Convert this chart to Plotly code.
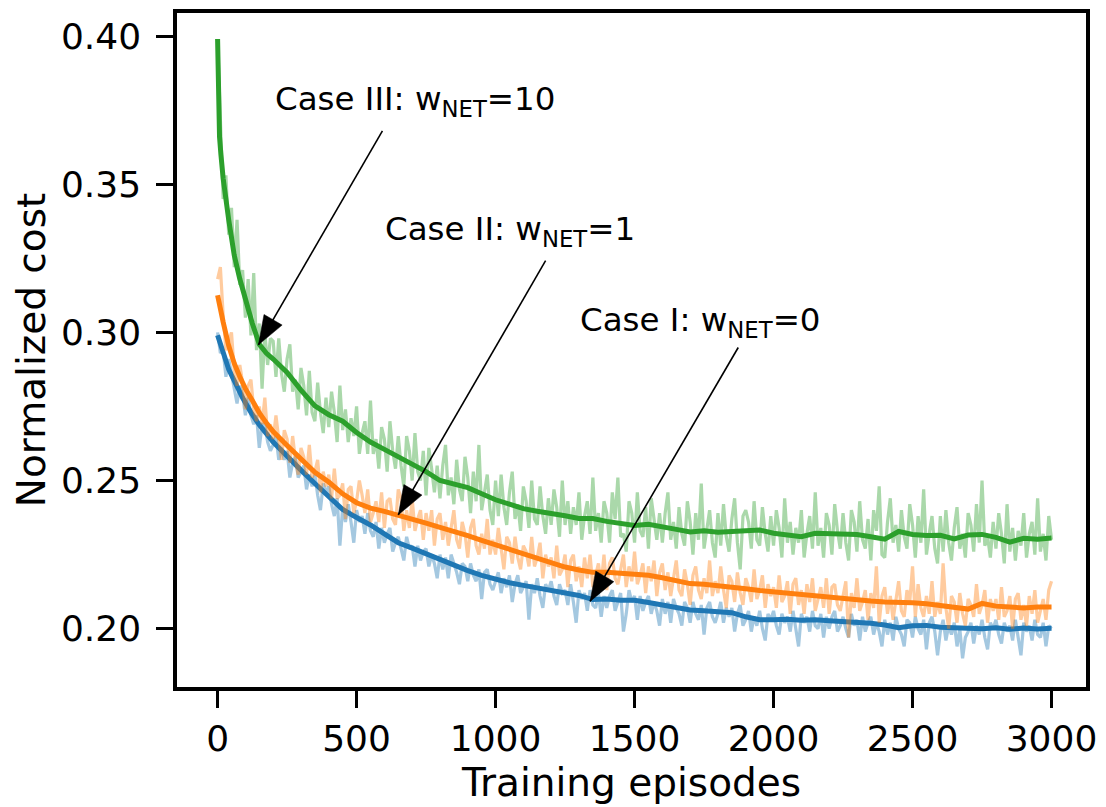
import math
import plotly.graph_objects as go

# ---------------- data ----------------
raw_episodes = list(range(0, 3001, 10))

blue_raw = [
    0.300, 0.293, 0.294, 0.285, 0.291, 0.286, 0.282, 0.276, 0.282, 0.279, 0.272, 0.278, 0.272, 0.269, 0.272, 0.261, 0.269, 0.269, 0.263, 0.260,
    0.262, 0.265, 0.257, 0.261, 0.257, 0.260, 0.251, 0.256, 0.258, 0.251, 0.253, 0.255, 0.247, 0.252, 0.248, 0.252, 0.245, 0.240, 0.249, 0.246,
    0.248, 0.242, 0.238, 0.244, 0.228, 0.241, 0.236, 0.242, 0.236, 0.229, 0.240, 0.236, 0.238, 0.232, 0.239, 0.233, 0.231, 0.236, 0.227, 0.234,
    0.229, 0.232, 0.234, 0.226, 0.229, 0.231, 0.227, 0.223, 0.231, 0.227, 0.228, 0.221, 0.228, 0.223, 0.226, 0.227, 0.221, 0.225, 0.222, 0.217,
    0.225, 0.220, 0.224, 0.217, 0.225, 0.222, 0.219, 0.215, 0.222, 0.221, 0.216, 0.222, 0.218, 0.216, 0.220, 0.210, 0.219, 0.220, 0.215, 0.213,
    0.216, 0.219, 0.212, 0.217, 0.214, 0.218, 0.209, 0.215, 0.218, 0.212, 0.214, 0.216, 0.203, 0.215, 0.212, 0.217, 0.211, 0.207, 0.215, 0.213,
    0.216, 0.211, 0.208, 0.215, 0.212, 0.213, 0.208, 0.215, 0.209, 0.202, 0.213, 0.210, 0.212, 0.206, 0.213, 0.208, 0.207, 0.212, 0.204, 0.211,
    0.207, 0.211, 0.213, 0.206, 0.209, 0.212, 0.199, 0.205, 0.213, 0.209, 0.211, 0.203, 0.211, 0.206, 0.209, 0.211, 0.205, 0.209, 0.206, 0.201,
    0.210, 0.205, 0.209, 0.202, 0.210, 0.207, 0.205, 0.201, 0.209, 0.207, 0.202, 0.209, 0.205, 0.203, 0.208, 0.198, 0.207, 0.209, 0.204, 0.202,
    0.205, 0.209, 0.202, 0.207, 0.204, 0.207, 0.199, 0.205, 0.208, 0.201, 0.203, 0.206, 0.199, 0.204, 0.201, 0.206, 0.200, 0.196, 0.205, 0.203,
    0.206, 0.201, 0.198, 0.205, 0.202, 0.204, 0.199, 0.206, 0.200, 0.194, 0.205, 0.202, 0.204, 0.199, 0.206, 0.201, 0.200, 0.205, 0.197, 0.204,
    0.200, 0.204, 0.206, 0.199, 0.201, 0.204, 0.200, 0.197, 0.205, 0.201, 0.203, 0.196, 0.204, 0.199, 0.202, 0.204, 0.198, 0.202, 0.199, 0.194,
    0.203, 0.198, 0.202, 0.196, 0.204, 0.200, 0.198, 0.194, 0.203, 0.202, 0.197, 0.204, 0.200, 0.198, 0.203, 0.193, 0.202, 0.204, 0.199, 0.191,
    0.199, 0.203, 0.196, 0.201, 0.198, 0.202, 0.194, 0.200, 0.190, 0.197, 0.199, 0.202, 0.195, 0.201, 0.198, 0.203, 0.197, 0.193, 0.202, 0.200,
    0.203, 0.198, 0.195, 0.202, 0.199, 0.201, 0.196, 0.203, 0.197, 0.191, 0.202, 0.199, 0.201, 0.196, 0.203, 0.198, 0.197, 0.202, 0.194, 0.201,
    0.200,
]

orange_raw = [
    0.318, 0.322, 0.306, 0.294, 0.297, 0.300, 0.287, 0.282, 0.289, 0.283, 0.274, 0.282, 0.284, 0.274, 0.270, 0.275, 0.269, 0.278, 0.265, 0.269,
    0.264, 0.272, 0.264, 0.257, 0.267, 0.264, 0.256, 0.265, 0.257, 0.252, 0.261, 0.258, 0.252, 0.262, 0.251, 0.253, 0.257, 0.246, 0.253, 0.248,
    0.252, 0.244, 0.254, 0.244, 0.245, 0.249, 0.237, 0.247, 0.248, 0.239, 0.243, 0.250, 0.245, 0.239, 0.247, 0.236, 0.239, 0.243, 0.236, 0.246,
    0.234, 0.243, 0.244, 0.237, 0.235, 0.247, 0.244, 0.233, 0.240, 0.234, 0.244, 0.233, 0.237, 0.240, 0.230, 0.239, 0.233, 0.240, 0.228, 0.237,
    0.239, 0.230, 0.236, 0.228, 0.234, 0.240, 0.230, 0.227, 0.236, 0.232, 0.224, 0.234, 0.237, 0.228, 0.225, 0.232, 0.227, 0.237, 0.225, 0.230,
    0.225, 0.234, 0.227, 0.220, 0.231, 0.229, 0.222, 0.231, 0.224, 0.220, 0.228, 0.226, 0.221, 0.231, 0.221, 0.224, 0.229, 0.217, 0.225, 0.221,
    0.224, 0.217, 0.228, 0.218, 0.220, 0.225, 0.214, 0.223, 0.225, 0.216, 0.221, 0.214, 0.224, 0.217, 0.225, 0.214, 0.218, 0.222, 0.215, 0.225,
    0.213, 0.222, 0.224, 0.217, 0.215, 0.220, 0.225, 0.214, 0.221, 0.216, 0.226, 0.215, 0.218, 0.222, 0.212, 0.221, 0.216, 0.223, 0.211, 0.219,
    0.222, 0.213, 0.219, 0.211, 0.217, 0.223, 0.213, 0.211, 0.220, 0.215, 0.208, 0.218, 0.221, 0.213, 0.210, 0.217, 0.212, 0.223, 0.211, 0.216,
    0.212, 0.221, 0.213, 0.207, 0.218, 0.216, 0.209, 0.219, 0.212, 0.208, 0.217, 0.214, 0.209, 0.220, 0.210, 0.213, 0.218, 0.207, 0.215, 0.211,
    0.214, 0.207, 0.218, 0.209, 0.211, 0.216, 0.205, 0.215, 0.217, 0.208, 0.213, 0.205, 0.215, 0.209, 0.217, 0.206, 0.210, 0.214, 0.207, 0.217,
    0.205, 0.214, 0.215, 0.208, 0.206, 0.211, 0.216, 0.197, 0.212, 0.207, 0.217, 0.206, 0.209, 0.213, 0.203, 0.212, 0.207, 0.221, 0.202, 0.211,
    0.214, 0.205, 0.211, 0.203, 0.210, 0.216, 0.206, 0.204, 0.213, 0.209, 0.221, 0.204, 0.215, 0.207, 0.204, 0.211, 0.205, 0.216, 0.204, 0.209,
    0.205, 0.222, 0.207, 0.200, 0.211, 0.209, 0.202, 0.212, 0.205, 0.201, 0.210, 0.208, 0.204, 0.215, 0.205, 0.208, 0.213, 0.202, 0.210, 0.206,
    0.210, 0.203, 0.214, 0.204, 0.206, 0.211, 0.200, 0.210, 0.212, 0.203, 0.208, 0.201, 0.211, 0.205, 0.213, 0.202, 0.206, 0.210, 0.203, 0.213,
    0.216,
]

green_raw = [
    0.399, 0.372, 0.345, 0.353, 0.333, 0.342, 0.322, 0.338, 0.316, 0.321, 0.305, 0.318, 0.299, 0.320, 0.294, 0.303, 0.281, 0.300, 0.289, 0.298,
    0.297, 0.285, 0.298, 0.286, 0.280, 0.291, 0.296, 0.280, 0.284, 0.274, 0.288, 0.282, 0.272, 0.287, 0.273, 0.270, 0.283, 0.273, 0.266, 0.278,
    0.268, 0.280, 0.273, 0.263, 0.282, 0.267, 0.274, 0.263, 0.271, 0.265, 0.275, 0.259, 0.266, 0.270, 0.259, 0.277, 0.259, 0.264, 0.254, 0.268,
    0.264, 0.253, 0.270, 0.260, 0.254, 0.265, 0.255, 0.248, 0.265, 0.260, 0.250, 0.266, 0.253, 0.250, 0.260, 0.245, 0.261, 0.254, 0.246, 0.255,
    0.244, 0.255, 0.262, 0.245, 0.251, 0.242, 0.257, 0.247, 0.243, 0.258, 0.251, 0.239, 0.253, 0.243, 0.262, 0.240, 0.246, 0.252, 0.240, 0.235,
    0.250, 0.238, 0.252, 0.241, 0.235, 0.246, 0.253, 0.237, 0.242, 0.233, 0.248, 0.243, 0.234, 0.250, 0.237, 0.235, 0.248, 0.238, 0.232, 0.244,
    0.235, 0.247, 0.241, 0.231, 0.250, 0.235, 0.243, 0.232, 0.241, 0.235, 0.246, 0.230, 0.238, 0.243, 0.232, 0.251, 0.233, 0.239, 0.229, 0.243,
    0.239, 0.229, 0.246, 0.237, 0.251, 0.231, 0.232, 0.226, 0.243, 0.239, 0.229, 0.246, 0.233, 0.231, 0.241, 0.227, 0.244, 0.237, 0.230, 0.239,
    0.229, 0.239, 0.246, 0.230, 0.236, 0.227, 0.241, 0.232, 0.228, 0.243, 0.236, 0.225, 0.239, 0.230, 0.249, 0.227, 0.234, 0.240, 0.229, 0.224,
    0.239, 0.228, 0.242, 0.231, 0.226, 0.237, 0.244, 0.229, 0.220, 0.238, 0.240, 0.236, 0.227, 0.243, 0.230, 0.228, 0.241, 0.232, 0.226, 0.238,
    0.228, 0.240, 0.234, 0.224, 0.244, 0.229, 0.236, 0.225, 0.234, 0.229, 0.240, 0.224, 0.232, 0.238, 0.227, 0.246, 0.228, 0.234, 0.224, 0.239,
    0.235, 0.225, 0.242, 0.233, 0.227, 0.239, 0.229, 0.223, 0.240, 0.236, 0.226, 0.243, 0.230, 0.227, 0.237, 0.223, 0.240, 0.233, 0.248, 0.225,
    0.224, 0.236, 0.244, 0.229, 0.235, 0.226, 0.240, 0.231, 0.227, 0.242, 0.235, 0.224, 0.238, 0.229, 0.247, 0.225, 0.232, 0.238, 0.227, 0.222,
    0.238, 0.226, 0.240, 0.229, 0.223, 0.234, 0.241, 0.227, 0.232, 0.224, 0.239, 0.235, 0.226, 0.242, 0.229, 0.250, 0.228, 0.231, 0.224, 0.236,
    0.227, 0.239, 0.232, 0.222, 0.242, 0.226, 0.234, 0.223, 0.233, 0.228, 0.239, 0.224, 0.232, 0.236, 0.225, 0.244, 0.226, 0.232, 0.223, 0.238,
    0.230,
]

blue_smooth_ep = [0, 10, 20, 40, 60, 90, 120, 150] + list(range(200, 3001, 50))
blue_smooth = [
    0.2990, 0.2955, 0.2933, 0.2875, 0.2835, 0.2779, 0.2730, 0.2688,
    0.2630, 0.2580, 0.2535, 0.2490, 0.2447, 0.2402, 0.2375, 0.2350, 0.2320, 0.2290,
    0.2272, 0.2252, 0.2232, 0.2215, 0.2196, 0.2180, 0.2166, 0.2155, 0.2146, 0.2138,
    0.2131, 0.2124, 0.2112, 0.2098, 0.2100, 0.2096, 0.2096, 0.2088, 0.2079, 0.2070,
    0.2063, 0.2060, 0.2058, 0.2054, 0.2040, 0.2030, 0.2030, 0.2032, 0.2028, 0.2030,
    0.2027, 0.2025, 0.2023, 0.2018, 0.2012, 0.2003, 0.2010, 0.2011, 0.2005, 0.2002,
    0.2003, 0.2000, 0.2003, 0.1998, 0.2002, 0.1999, 0.2001,
]

orange_smooth_ep = [0, 10, 20, 40, 60, 80, 100, 125, 150, 175] + list(range(200, 3001, 50))
orange_smooth = [
    0.3125, 0.3070, 0.3035, 0.2955, 0.2895, 0.2850, 0.2810, 0.2770, 0.2728, 0.2695,
    0.2665, 0.2618, 0.2575, 0.2528, 0.2495, 0.2455, 0.2425, 0.2407, 0.2396, 0.2384,
    0.2372, 0.2356, 0.2342, 0.2330, 0.2314, 0.2298, 0.2283, 0.2268, 0.2252, 0.2238,
    0.2222, 0.2208, 0.2198, 0.2190, 0.2190, 0.2187, 0.2186, 0.2180, 0.2172, 0.2162,
    0.2152, 0.2150, 0.2146, 0.2142, 0.2135, 0.2129, 0.2124, 0.2120, 0.2115, 0.2110,
    0.2106, 0.2100, 0.2096, 0.2093, 0.2090, 0.2090, 0.2087, 0.2084, 0.2078, 0.2072,
    0.2066, 0.2085, 0.2076, 0.2073, 0.2070, 0.2073, 0.2073,
]

green_smooth_ep = [0, 3, 7, 12, 20, 40, 60, 80, 100, 125, 150, 175] + list(range(200, 3001, 50))
green_smooth = [
    0.399, 0.380, 0.366, 0.360, 0.352, 0.338, 0.326, 0.318, 0.311, 0.303, 0.296, 0.293,
    0.2910, 0.2865, 0.2805, 0.2752, 0.2722, 0.2700, 0.2662, 0.2630, 0.2605, 0.2580,
    0.2557, 0.2530, 0.2500, 0.2490, 0.2476, 0.2455, 0.2435, 0.2420, 0.2405, 0.2396,
    0.2390, 0.2381, 0.2372, 0.2372, 0.2362, 0.2355, 0.2348, 0.2352, 0.2345, 0.2335,
    0.2326, 0.2330, 0.2325, 0.2327, 0.2333, 0.2333, 0.2322, 0.2316, 0.2310, 0.2322,
    0.2320, 0.2320, 0.2318, 0.2310, 0.2302, 0.2328, 0.2318, 0.2314, 0.2315, 0.2303,
    0.2316, 0.2318, 0.2308, 0.2292, 0.2305, 0.2302, 0.2306,
]

# annotations: label, text anchor (left, bottom), arrow tail, arrow tip
ann_labels = ["Case III: w<sub>NET</sub>=10", "Case II: w<sub>NET</sub>=1", "Case I: w<sub>NET</sub>=0"]
ann_text_xy = [(200, 0.3703), (595, 0.3264), (1296, 0.2958)]
ann_tail_xy = [(593, 0.3680), (1180, 0.3242), (1873, 0.2949)]
ann_tip_xy = [(147, 0.2958), (650, 0.2384), (1340, 0.2092)]

x_ticks = [0, 500, 1000, 1500, 2000, 2500, 3000]
y_ticks = [0.20, 0.25, 0.30, 0.35, 0.40]

# ---------------- style ----------------
BLUE, ORANGE, GREEN = "#1f77b4", "#ff7f0e", "#2ca02c"
FONT = "DejaVu Sans"
W, H = 1106, 807
M = dict(l=177, r=9, t=10, b=120)
XR = [-146, 3124]
YR = [0.1803, 0.4078]

fig = go.Figure()
for raw, sep, sm, col in [
    (blue_raw, blue_smooth_ep, blue_smooth, BLUE),
    (orange_raw, orange_smooth_ep, orange_smooth, ORANGE),
    (green_raw, green_smooth_ep, green_smooth, GREEN),
]:
    fig.add_trace(go.Scatter(x=raw_episodes, y=raw, mode="lines",
                             line=dict(color=col, width=3.2), opacity=0.4,
                             showlegend=False, hoverinfo="skip"))
    fig.add_trace(go.Scatter(x=sep, y=sm, mode="lines",
                             line=dict(color=col, width=5),
                             showlegend=False))

# pixel scale for arrow heads
pw = W - M["l"] - M["r"]
ph = H - M["t"] - M["b"]
sx = pw / (XR[1] - XR[0])
sy = ph / (YR[1] - YR[0])
HEAD_L, HEAD_HW = 29, 10.5

shapes = []
annotations = []
for lab, txy, tail, tip in zip(ann_labels, ann_text_xy, ann_tail_xy, ann_tip_xy):
    annotations.append(dict(x=txy[0], y=txy[1], xref="x", yref="y", text=lab,
                            showarrow=False, xanchor="left", yanchor="bottom",
                            font=dict(family=FONT, size=32.5, color="black")))
    shapes.append(dict(type="line", xref="x", yref="y", x0=tail[0], y0=tail[1],
                       x1=tip[0], y1=tip[1], line=dict(color="black", width=1.6)))
    dx = (tip[0] - tail[0]) * sx
    dy = -(tip[1] - tail[1]) * sy
    n = math.hypot(dx, dy)
    ux, uy = dx / n, dy / n
    px, py = -uy, ux
    bx, by = -HEAD_L * ux, -HEAD_L * uy
    c1 = (bx + HEAD_HW * px, by + HEAD_HW * py)
    c2 = (bx - HEAD_HW * px, by - HEAD_HW * py)
    path = "M0,0 L{:.2f},{:.2f} L{:.2f},{:.2f} Z".format(c1[0], -c1[1], c2[0], -c2[1])
    shapes.append(dict(type="path", xref="x", yref="y", xsizemode="pixel", ysizemode="pixel",
                       xanchor=tip[0], yanchor=tip[1], path=path,
                       fillcolor="black", line=dict(color="black", width=0.5)))

axis_common = dict(showline=True, linecolor="black", linewidth=3.5, mirror=True,
                   ticks="outside", ticklen=17, tickwidth=3, tickcolor="black",
                   showgrid=False, zeroline=False,
                   tickfont=dict(family=FONT, size=36, color="black"))

fig.update_layout(
    width=W, height=H, margin=M,
    paper_bgcolor="white", plot_bgcolor="white",
    shapes=shapes, annotations=annotations,
    xaxis=dict(range=XR, tickvals=x_ticks, ticktext=[str(v) for v in x_ticks],
               title=dict(text="Training episodes", font=dict(family=FONT, size=39, color="black"),
                          standoff=12),
               **axis_common),
    yaxis=dict(range=YR, tickvals=y_ticks, ticktext=["{:.2f}".format(v) for v in y_ticks],
               ticklabelstandoff=8,
               title=dict(text="Normalized cost", font=dict(family=FONT, size=39, color="black"),
                          standoff=4),
               **axis_common),
)

fig.write_html("out.html")
